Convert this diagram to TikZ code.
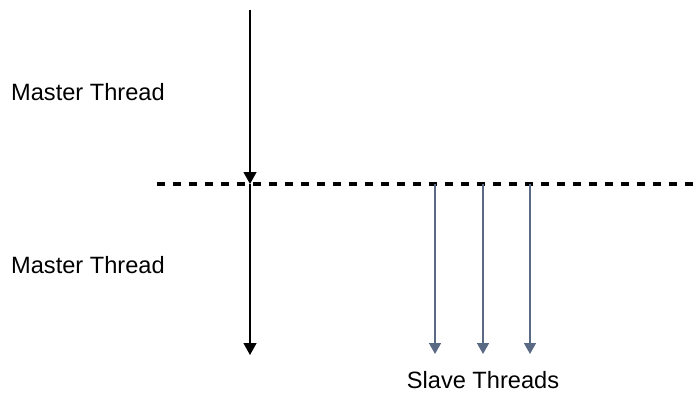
\documentclass[tikz,border=0pt]{standalone}
\usepackage{fontspec}
\setmainfont{Liberation Sans}
\usetikzlibrary{arrows.meta}
\definecolor{slave}{HTML}{5A6A85}
\tikzset{
  lbl/.style={font=\fontsize{23.6}{28}\selectfont, inner sep=0pt},
  master/.style={line width=1.3pt, -{Triangle[length=12pt,width=13pt]}},
  slavearrow/.style={draw=slave, line width=1.6pt, -{Triangle[length=11pt,width=12pt]}},
  sync/.style={line width=3.2pt, dash pattern=on 8pt off 8pt}
}
\begin{document}
\begin{tikzpicture}[x=1pt,y=-1pt]
\useasboundingbox (0,0) rectangle (700,393);
\coordinate (mtop) at (250,10);
\coordinate (mmid) at (250,184);
\coordinate (mbot) at (250,355);
\coordinate (dl) at (157,184);
\coordinate (dr) at (695,184);
\coordinate (s1t) at (435,184);
\coordinate (s2t) at (483,184);
\coordinate (s3t) at (530,184);
\coordinate (s1b) at (435,354);
\coordinate (s2b) at (483,354);
\coordinate (s3b) at (530,354);
\draw[sync] (dl) -- (dr);
\draw[master] (mtop) -- (mmid);
\draw[master] (mmid) -- (mbot);
\draw[slavearrow] (s1t) -- (s1b);
\draw[slavearrow] (s2t) -- (s2b);
\draw[slavearrow] (s3t) -- (s3b);
\node[lbl, anchor=base west] (m1) at (11,100) {Master Thread};
\node[lbl, anchor=base west] (m2) at (11,273) {Master Thread};
\node[lbl, anchor=base] (sl) at (483,388) {Slave Threads};
\end{tikzpicture}
\end{document}
